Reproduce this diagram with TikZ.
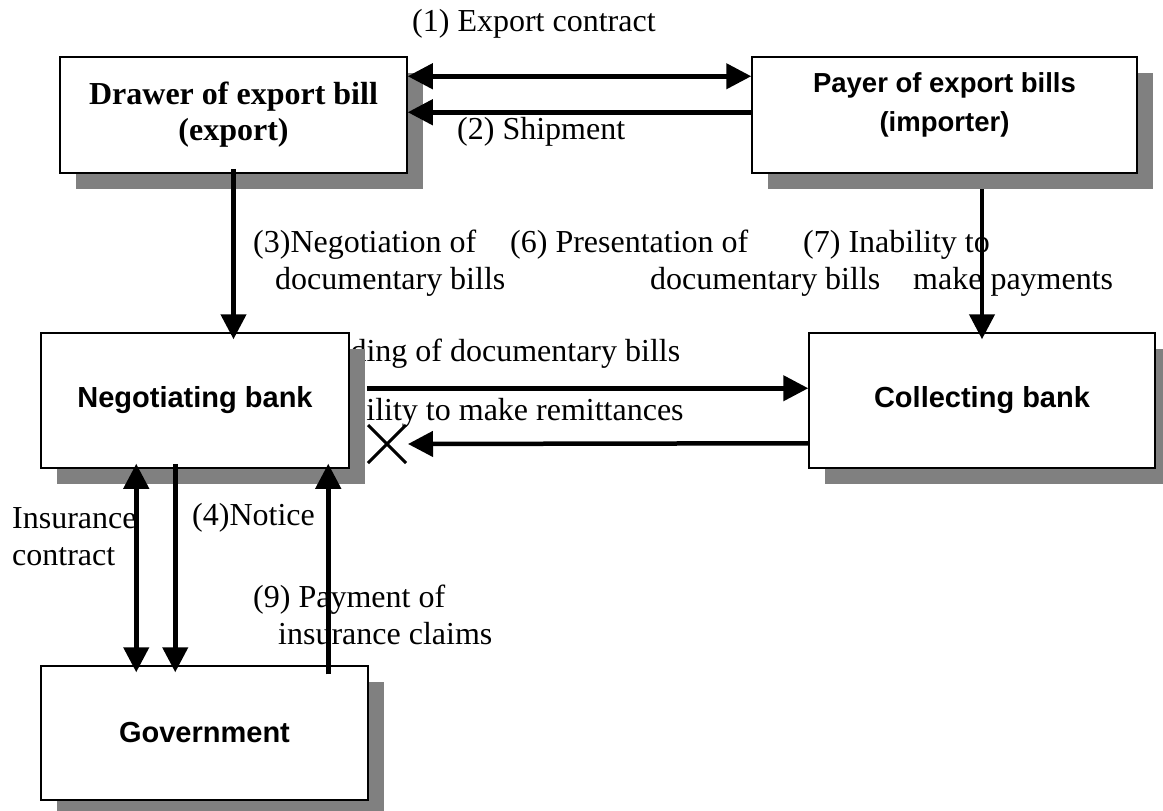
\documentclass[tikz,border=0pt]{standalone}
\usepackage{fontspec}
\setmainfont{Liberation Serif}
\setsansfont{Liberation Sans}
\usetikzlibrary{arrows.meta,shadows}
\definecolor{shadowgray}{HTML}{808080}

\begin{document}
\begin{tikzpicture}[x=1pt, y=-1pt, >={Triangle[length=25pt,width=25pt]},
        box/.style = {draw, line width=1.5pt, fill=white, inner sep=0pt, align=center,
            drop shadow={shadow xshift=16pt, shadow yshift=-16pt, fill=shadowgray, opacity=1}},
        bank/.style = {box, font=\sffamily\bfseries\fontsize{29}{34}\selectfont},
        lbl/.style = {anchor=west, inner sep=0pt, align=left, font=\fontsize{32}{37}\selectfont},
        arr/.style = {line width=4.5pt}]
        \useasboundingbox (0,0) rectangle (1163,811);

        \node[box, minimum width=347pt, minimum height=116pt, font=\bfseries\fontsize{32}{36}\selectfont] (drawer) at (233.5,115) {Drawer of export bill\\(export)};
        \node[box, minimum width=385pt, minimum height=116pt, text depth=26pt, font=\sffamily\bfseries\fontsize{27.5}{39}\selectfont] (payer) at (944.5,115) {Payer of export bills\\(importer)};

        % labels partly hidden behind the negotiating bank
        \node[lbl] (l_5) at (257,354) {(5) Sending of documentary bills};
        \node[lbl] (l_8) at (264,413) {(8) Inability to make remittances};

        \node[bank, minimum width=308pt, minimum height=135pt] (neg) at (195,400.5) {Negotiating bank};
        \node[bank, minimum width=346pt, minimum height=135pt] (coll) at (982,400.5) {Collecting bank};
        \node[bank, minimum width=327pt, minimum height=134pt] (gov) at (204.5,733) {Government};

        \node[lbl] (l_1) at (412,24) {(1) Export contract};
        \node[lbl] (l_2) at (457,132) {(2) Shipment};
        \node[lbl] (l_3) at (253,263) {(3)Negotiation of\\\hspace*{22pt}documentary bills};
        \node[lbl] (l_6) at (510,263) {(6) Presentation of\\\hspace*{140pt}documentary bills};
        \node[lbl] (l_7) at (803,263) {(7) Inability to\\\hspace*{110pt}make payments};
        \node[lbl] (l_ins) at (12,537) {Insurance\\contract};
        \node[lbl] (l_4) at (192,518) {(4)Notice};
        \node[lbl] (l_9) at (253,615) {(9) Payment of\\\hspace*{25pt}insurance claims};

        \draw[arr, <->] ([yshift=-20pt]drawer.north east) -- ([yshift=-20pt]drawer.north east -| payer.west);
        \draw[arr, ->] ([yshift=-56pt]payer.north west) -- ([yshift=-56pt]payer.north west -| drawer.east);
        \draw[arr, ->, shorten <=-5pt, shorten >=-7pt] (drawer.south) -- (drawer.south |- neg.north);
        \draw[arr, ->, shorten <=15pt, shorten >=-7pt] (coll.north |- payer.south) -- (coll.north);

        \draw[arr, ->, shorten <=17pt] ([yshift=-56pt]neg.north east) -- ([yshift=-56pt]neg.north east -| coll.west);
        \coordinate (cut) at (387,444);
        \draw[arr, ->] ([yshift=-111pt]coll.north west) -- ([xshift=21pt]cut);
        \draw[line width=3pt] ([shift={(-19pt,-19pt)}]cut) -- ([shift={(19pt,19pt)}]cut)
            ([shift={(-19pt,19pt)}]cut) -- ([shift={(19pt,-19pt)}]cut);

        \draw[arr, <->, shorten <=-5pt, shorten >=-7pt] ([xshift=96pt]neg.south west) -- ([xshift=96pt]neg.south west |- gov.north);
        \draw[arr, ->, shorten <=-5pt, shorten >=-7pt] ([xshift=135pt]neg.south west) -- ([xshift=135pt]neg.south west |- gov.north);
        \draw[arr, ->, shorten <=-9pt, shorten >=-5pt] ([xshift=288pt]gov.north west) -- ([xshift=288pt]gov.north west |- neg.south);
    \end{tikzpicture}
\end{document}
